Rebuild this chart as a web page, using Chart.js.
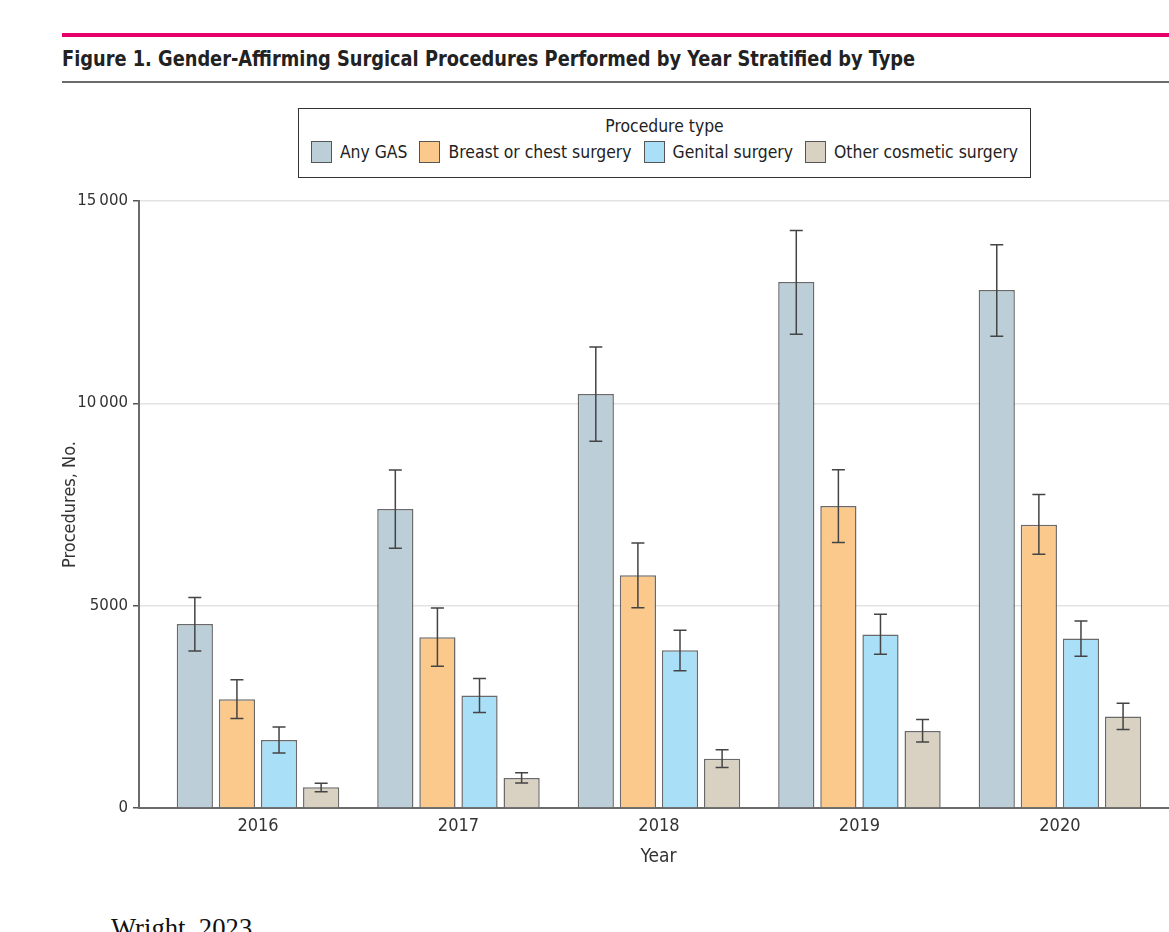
<!DOCTYPE html>
<html>
<head>
<meta charset="utf-8">
<script src="https://cdn.jsdelivr.net/npm/chart.js@4.4.0/dist/chart.umd.min.js"></script>
<style>
  html, body { margin: 0; padding: 0; background: #fff; width: 1169px; height: 932px; overflow: hidden; }
  body { position: relative; font-family: 'Liberation Sans Narrow', 'DejaVu Sans Condensed', sans-serif; color: #222; }
  #topline { position: absolute; left: 62px; top: 33px; width: 1107px; height: 4px; background: #e5006b; }
  #title { position: absolute; left: 62px; top: 46px; font-weight: bold; font-size: 22px; white-space: nowrap; transform: scaleX(0.899); transform-origin: left center; }
  #underline { position: absolute; left: 62px; top: 81px; width: 1107px; height: 2px; background: #6b6b6b; }
  #legend { position: absolute; left: 298px; top: 108px; width: 733px; height: 70px; border: 1px solid #333; box-sizing: border-box; text-align: center; }
  #legend .ltitle { font-size: 17.4px; margin-top: 7px; line-height: 21px; }
  #legend .items { display: flex; justify-content: center; gap: 12px; margin-top: 4px; font-size: 17.4px; line-height: 22px; }
  #legend .item { display: flex; align-items: center; gap: 8px; }
  #legend .sw { width: 21px; height: 22px; box-sizing: border-box; border: 1.5px solid #555; }
  #chart { position: absolute; left: 0; top: 185px; }
  #source { position: absolute; left: 111px; top: 913px; font-family: 'Liberation Serif', serif; font-size: 26.7px; color: #111; white-space: nowrap; }
</style>
</head>
<body>
<div id="topline"></div>
<div id="title">Figure 1. Gender-Affirming Surgical Procedures Performed by Year Stratified by Type</div>
<div id="underline"></div>
<div id="legend">
  <div class="ltitle">Procedure type</div>
  <div class="items" id="legendItems"></div>
</div>
<canvas id="chart" width="1180" height="700"></canvas>
<div id="source">Wright, 2023</div>
<script>
const years = [2016, 2017, 2018, 2019, 2020];
const seriesNames = ["Any GAS", "Breast or chest surgery", "Genital surgery", "Other cosmetic surgery"];
const seriesColors = ["#bccfd9", "#fbc98b", "#aadff8", "#d9d2c3"];

const anyGas = [4550, 7390, 10230, 13000, 12800];
const anyGasLow = [3880, 6420, 9060, 11710, 11660];
const anyGasHigh = [5200, 8350, 11390, 14270, 13920];

const breast = [2690, 4220, 5750, 7460, 7000];
const breastLow = [2210, 3500, 4950, 6560, 6270];
const breastHigh = [3170, 4940, 6550, 8360, 7750];

const genital = [1680, 2780, 3900, 4290, 4190];
const genitalLow = [1360, 2360, 3390, 3800, 3750];
const genitalHigh = [2000, 3200, 4390, 4790, 4620];

const other = [510, 740, 1220, 1900, 2260];
const otherLow = [400, 620, 1000, 1630, 1940];
const otherHigh = [610, 870, 1440, 2190, 2590];

const yTicks = [0, 5000, 10000, 15000];

const values = [anyGas, breast, genital, other];
const lows = [anyGasLow, breastLow, genitalLow, otherLow];
const highs = [anyGasHigh, breastHigh, genitalHigh, otherHigh];

const narrow = "'Liberation Sans Narrow', 'DejaVu Sans Condensed', sans-serif";

// html legend
let legendItems = document.getElementById("legendItems");
seriesNames.forEach((name, i) => {
  let item = document.createElement("div");
  item.className = "item";
  item.innerHTML = '<span class="sw" style="background:' + seriesColors[i] + '"></span><span>' + name + '</span>';
  legendItems.appendChild(item);
});

function formatTick(v) {
  if (v >= 10000) {
    return String(v).replace(/(\d)(?=(\d{3})+$)/g, "$1\u2009");
  }
  return String(v);
}

const errorBars = {
  id: "errorBars",
  afterDatasetsDraw(chart) {
    const ctx = chart.ctx;
    const yScale = chart.scales.y;
    ctx.save();
    ctx.strokeStyle = "#444";
    ctx.lineWidth = 1.5;
    chart.data.datasets.forEach((ds, d) => {
      const meta = chart.getDatasetMeta(d);
      meta.data.forEach((bar, i) => {
        const x = bar.x;
        const top = yScale.getPixelForValue(ds.errHigh[i]);
        const bottom = yScale.getPixelForValue(ds.errLow[i]);
        ctx.beginPath();
        ctx.moveTo(x, top);
        ctx.lineTo(x, bottom);
        ctx.moveTo(x - 6.5, top);
        ctx.lineTo(x + 6.5, top);
        ctx.moveTo(x - 6.5, bottom);
        ctx.lineTo(x + 6.5, bottom);
        ctx.stroke();
      });
    });
    ctx.restore();
  },
};

let ctx = document.getElementById("chart").getContext("2d");

let gasChart = new Chart(ctx, {
  type: "bar",
  data: {
    datasets: seriesNames.map((name, s) => ({
      label: name,
      data: years.map((yr, i) => ({ x: yr, y: values[s][i] })),
      errLow: lows[s],
      errHigh: highs[s],
      backgroundColor: seriesColors[s],
      borderColor: "rgba(80, 80, 80, 0.85)",
      borderWidth: 1.5,
      categoryPercentage: 0.84,
      barPercentage: 0.86,
    })),
  },
  options: {
    responsive: false,
    animation: false,
    layout: {
      padding: { left: 60, right: 2, top: 16, bottom: 16 },
    },
    plugins: {
      legend: { display: false },
      tooltip: { enabled: false },
    },
    scales: {
      x: {
        type: "linear",
        offset: false,
        min: 2015.4065,
        max: 2020.589,
        afterBuildTicks: (scale) => {
          scale.ticks = years.map((v) => ({ value: v }));
        },
        afterFit: (scale) => {
          scale.height = 61;
        },
        grid: { display: false, drawTicks: false, offset: false },
        border: { display: true, color: "#6b6b6b", width: 2 },
        ticks: {
          padding: 8,
          color: "#333",
          font: { family: narrow, size: 18 },
          callback: (v) => String(v),
        },
        title: {
          display: true,
          text: "Year",
          color: "#333",
          padding: { top: 0, bottom: 1 },
          font: { family: narrow, size: 19 },
        },
      },
      y: {
        min: 0,
        max: 15000,
        afterBuildTicks: (scale) => {
          scale.ticks = yTicks.map((v) => ({ value: v }));
        },
        afterFit: (scale) => {
          scale.width = 79;
        },
        grid: {
          color: "#e3e3e3",
          lineWidth: 1.5,
          tickColor: "#555",
          tickLength: 6,
        },
        border: { display: true, color: "#6b6b6b", width: 2 },
        ticks: {
          padding: 5,
          color: "#333",
          font: { family: "'DejaVu Sans', sans-serif", size: 15 },
          callback: (v) => formatTick(v),
        },
        title: {
          display: true,
          text: "Procedures, No.",
          color: "#333",
          padding: 0,
          font: { family: narrow, size: 18 },
        },
      },
    },
  },
  plugins: [errorBars],
});
</script>
</body>
</html>
